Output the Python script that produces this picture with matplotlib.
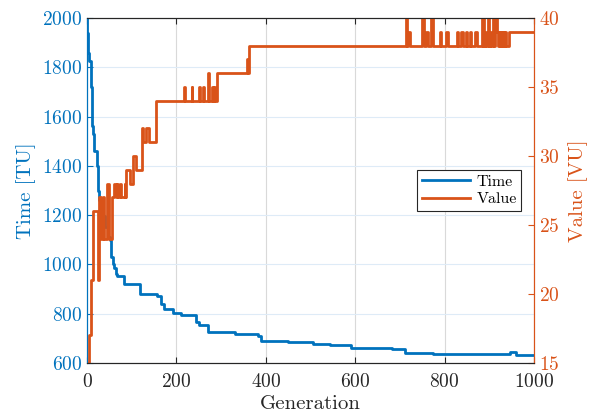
import numpy as np
import matplotlib
matplotlib.use("Agg")
import matplotlib.pyplot as plt

plt.rcParams["font.family"] = "serif"
plt.rcParams["font.serif"] = ["cmr10", "DejaVu Serif"]
plt.rcParams["mathtext.fontset"] = "cm"
plt.rcParams["axes.formatter.use_mathtext"] = True

# Time curve: generation where the value changes, and the new value
time_gen = [0, 1, 2, 3, 5, 8, 11, 12, 14, 16, 23, 25, 27, 30, 34, 40, 47, 51,
            53, 58, 61, 64, 66, 82, 118, 156, 166, 172, 192, 211, 243, 251,
            270, 330, 382, 390, 450, 506, 543, 591, 683, 711, 774, 946, 959, 1000]
time_val = [2000, 1940, 1890, 1860, 1825, 1720, 1620, 1560, 1530, 1460, 1400,
            1300, 1260, 1220, 1195, 1150, 1110, 1100, 1030, 1000, 985, 960,
            953, 919, 880, 873, 840, 818, 804, 795, 768, 756, 725, 718, 710,
            691, 687, 679, 672, 662, 657, 641, 637, 646, 633, 633]

# Value curve: generation where the value changes, and the new value
value_gen = [0, 5, 8, 10, 13, 24, 27, 31, 36, 38, 45, 50, 57, 60, 64, 67, 70,
             74, 77, 84, 86, 87, 96, 103, 109, 122, 126, 133, 139, 154,
             217, 219, 234, 236, 250, 252, 260, 262, 271, 273, 279, 281, 283,
             286, 290, 359, 361, 363,
             713, 716, 718, 722, 749, 754, 759, 763, 770, 774, 789, 793, 804,
             807, 827, 831, 837, 841, 847, 850, 857, 860, 868, 872, 883, 886,
             887, 889, 891, 893, 897, 900, 902, 904, 908, 911, 913, 917, 919,
             921, 924, 926, 929, 931, 934, 936, 938, 945, 1000]
value_val = [15, 17, 18, 21, 26, 21, 27, 24, 27, 24, 28, 24, 27, 28, 27, 28, 27,
             28, 27, 28, 27, 29, 28, 30, 29, 32, 31, 32, 31, 34,
             35, 34, 35, 34, 35, 34, 35, 34, 36, 34, 35, 34, 35,
             34, 36, 37, 36, 38,
             40, 38, 39, 38, 40, 38, 39, 38, 40, 38, 39, 38, 39,
             38, 39, 38, 39, 38, 39, 38, 39, 38, 39, 38, 40, 38,
             40, 38, 39, 38, 40, 38, 39, 38, 40, 38, 40, 39, 38,
             39, 38, 39, 38, 39, 38, 39, 38, 39, 39]

blue = (0.0, 0.447, 0.741)
orange = (0.850, 0.325, 0.098)
dark = (0.15, 0.15, 0.15)

fig = plt.figure(figsize=(5.9, 4.2), dpi=100)
ax = fig.add_axes([0.1475, 0.1357, 0.7575, 0.8213])
ax2 = ax.twinx()

l1, = ax.plot(time_gen, time_val, color=blue, lw=2, drawstyle="steps-post",
              label="Time")
l2, = ax2.plot(value_gen, value_val, color=orange, lw=2,
               drawstyle="steps-post", label="Value")

ax.set_xlim(0, 1000)
ax.set_ylim(600, 2000)
ax2.set_ylim(15, 40)
ax.set_xticks(np.arange(0, 1001, 200))
ax.set_yticks(np.arange(600, 2001, 200))
ax2.set_yticks(np.arange(15, 41, 5))

ax.grid(True, axis="x", color=(0.85, 0.85, 0.85), lw=0.8)
ax.grid(True, axis="y", color=(0.87, 0.92, 0.97), lw=0.8)
ax.set_axisbelow(True)

for a in (ax, ax2):
    a.spines["top"].set_color(dark)
    a.spines["bottom"].set_color(dark)
    a.spines["left"].set_color(blue)
    a.spines["right"].set_color(orange)

ax.tick_params(axis="x", direction="in", top=True, colors=dark,
               labelsize=14, length=4, pad=7)
ax.tick_params(axis="y", direction="in", colors=blue, labelsize=14, length=4)
ax2.tick_params(axis="y", direction="in", colors=orange, labelsize=14,
                length=4)

ax.set_xlabel("Generation", fontsize=15, color=dark, labelpad=3)
ax.set_ylabel("Time [TU]", fontsize=15, color=blue, labelpad=4)
ax2.set_ylabel("Value [VU]", fontsize=15, color=orange, labelpad=6)

leg = ax2.legend([l1, l2], ["Time", "Value"], loc="center right",
                 bbox_to_anchor=(0.99, 0.50), fontsize=11.5, fancybox=False,
                 framealpha=1, edgecolor=dark, borderpad=0.3,
                 handlelength=3.0, handletextpad=0.4, labelspacing=0.2)
leg.get_frame().set_linewidth(0.8)

fig.savefig("out.png", dpi=100)
